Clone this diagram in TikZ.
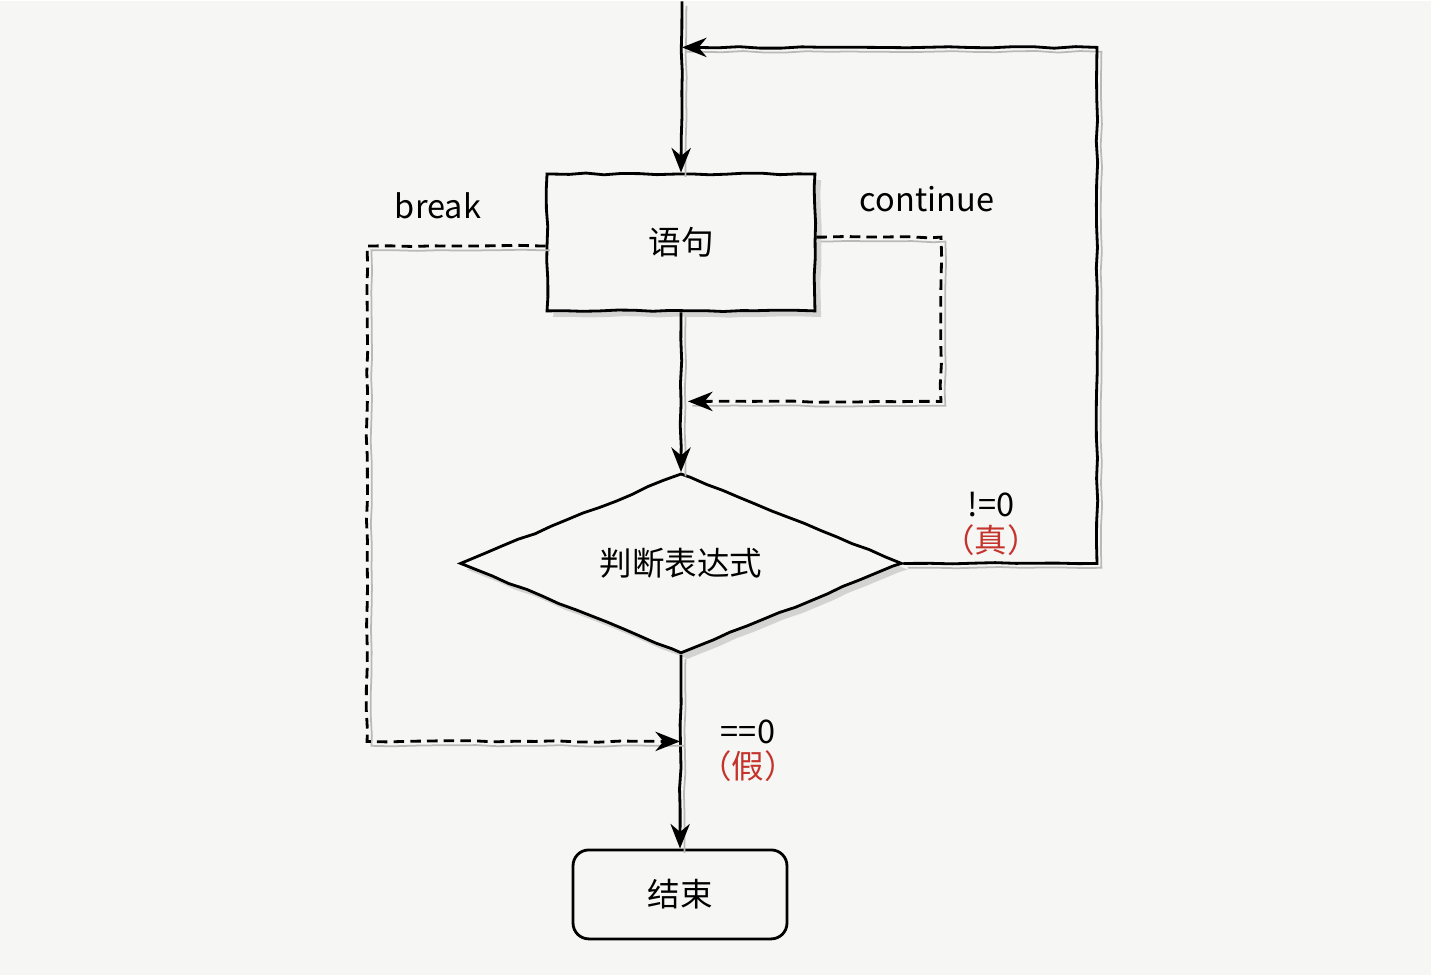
\documentclass[tikz,border=0pt]{standalone}
\usepackage{fontspec}
\setmainfont{Noto Sans CJK SC}
\usetikzlibrary{shapes.geometric,shadows,decorations.pathmorphing,arrows.meta}
\definecolor{paper}{RGB}{246,246,244}
\definecolor{truered}{RGB}{196,52,45}
\begin{document}
\pgfmathsetseed{7}
\begin{tikzpicture}[x=0.02cm, y=-0.02cm, line width=1.6pt,
  every node/.style={font=\fontsize{18.5}{22}\selectfont},
  sketch/.style={decorate, decoration={random steps, segment length=10pt, amplitude=0.5pt}},
  boxshadow/.style={drop shadow={shadow xshift=3.5pt, shadow yshift=-3.5pt, fill=gray!60}},
  stmtbox/.style={draw, fill=paper, sketch, boxshadow, minimum width=5.36cm, minimum height=2.74cm},
  condbox/.style={draw, fill=paper, sketch, boxshadow, diamond, aspect=2.45, inner sep=0pt,
    minimum width=8.84cm, minimum height=3.6cm},
  endbox/.style={draw, fill=paper, rounded corners=9pt, minimum width=4.28cm, minimum height=1.78cm},
  lineshadow/.style={preaction={draw=gray!55, line width=1pt, -, transform canvas={xshift=2.5pt, yshift=-2.5pt}}},
  flow/.style={-{Stealth[length=14pt, width=11pt]}, lineshadow, decorate,
    decoration={random steps, segment length=12pt, amplitude=0.45pt, pre length=4pt, post length=8pt}},
  jump/.style={flow, dashed, dash pattern=on 6pt off 3.5pt}]
\fill[paper] (0,0) rectangle (1431,974);
% nodes
\node[stmtbox] (stmt) at (681,241) {语句};
\node[condbox] (cond) at (681,562) {判断表达式};
\node[endbox] (end) at (680,893) {结束};
\coordinate (top) at (682,0);
\coordinate (back) at (682,46);
\coordinate (backR) at (1097,46);
\coordinate (contR) at (941,400);
\coordinate (contIn) at (688,400);
\coordinate (brkL) at (367,740);
\coordinate (brkIn) at (680,740);
% main flow
\draw[flow] (top) -- (stmt.north);
\draw[flow] (stmt.south) -- (cond.north);
\draw[flow] (cond.south) -- (end.north);
\draw[flow] (cond.east) -| (backR) -- (back);
% continue and break
\draw[jump] ([yshift=3pt]stmt.east) -| (contR) -- (contIn);
\draw[jump] ([yshift=-2pt]stmt.west) -| (brkL) -- (brkIn);
% labels
\node (brk) at (438,204) {break};
\node (cnt) at (927,198) {continue};
\node (ne) at (991,503) {!=0};
\node[text=truered] (ne2) at (991,539) {（真）};
\node (eq) at (748,730) {==0};
\node[text=truered] (eq2) at (748,765) {（假）};
\end{tikzpicture}
\end{document}
